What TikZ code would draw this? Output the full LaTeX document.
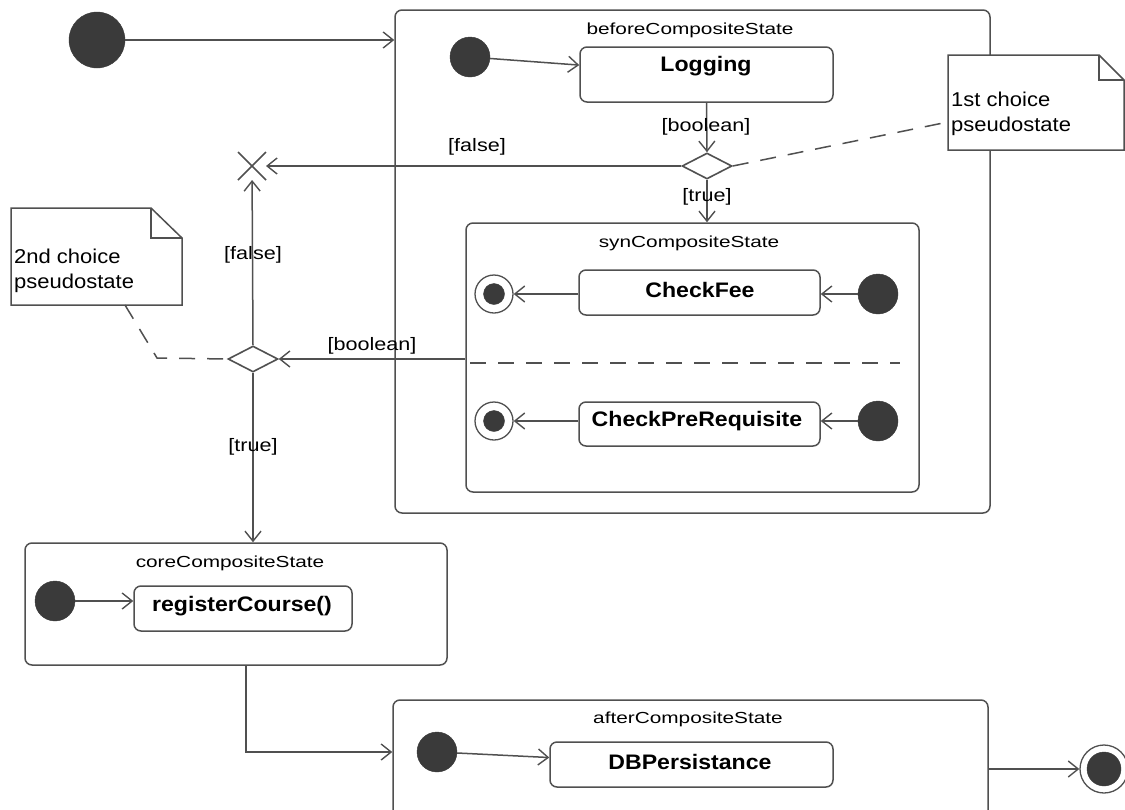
\documentclass[tikz,border=0pt]{standalone}
\usepackage{fontspec}
\setmainfont{Liberation Sans}
\usetikzlibrary{arrows.meta,shapes.geometric}
\definecolor{lc}{HTML}{505050}
\definecolor{dotc}{HTML}{3A3A3A}
\newcommand{\hsx}[2]{\scalebox{#1}[1]{#2}}
\begin{document}
\begin{tikzpicture}[x=1pt,y=-1pt,
  ln/.style={draw=lc, line width=1.5pt},
  tr/.style={ln, -{Straight Barb[length=10pt,width=16pt,line width=1.4pt]}},
  dsh/.style={ln, dash pattern=on 16pt off 12pt},
  sbox/.style={draw=lc, line width=1.5pt, rounded corners=7pt, inner sep=0pt, fill=white},
  init/.style={circle, fill=dotc, draw=dotc, inner sep=0pt},
  finout/.style={circle, draw=lc, line width=1.3pt, fill=white, inner sep=0pt},
  finin/.style={circle, fill=dotc, draw=dotc, inner sep=0pt},
  choice/.style={diamond, aspect=1.9, draw=lc, line width=1.6pt, fill=white, inner sep=0pt, minimum width=50pt, minimum height=26pt},
  ttl/.style={font=\fontsize{16}{18}\selectfont, text=black, inner sep=0pt},
  lbl/.style={font=\fontsize{18}{20}\selectfont, text=black, inner sep=0pt},
  stt/.style={font=\fontsize{21}{24}\selectfont\bfseries, text=black, inner sep=0pt},
  nte/.style={font=\fontsize{20}{25}\selectfont, text=black, inner sep=0pt, align=left, anchor=north west}
]
\useasboundingbox (0,0) rectangle (1125,809);
\fill[white] (0,0) rectangle (1125,809);

% top level initial
\node[init, minimum size=56pt] (i0) at (97,40) {};

% beforeCompositeState
\node[sbox, minimum width=595pt, minimum height=503pt] (before) at (692.5,261.5) {};
\node[ttl] (beforeT) at (690,30) {\hsx{1.3}{beforeCompositeState}};
\node[init, minimum size=40pt] (i1) at (470,57) {};
\node[sbox, minimum width=253pt, minimum height=55pt] (logging) at (706.5,74.5) {};
\node[stt] (loggingT) at (706,66) {\hsx{1.1}{Logging}};
\node[choice] (c1) at (707,166) {};

% synCompositeState
\node[sbox, minimum width=453pt, minimum height=269pt] (syn) at (692.5,357.5) {};
\node[ttl] (synT) at (689,243) {\hsx{1.3}{synCompositeState}};
\node[sbox, minimum width=241pt, minimum height=45pt] (fee) at (699.5,292.5) {};
\node[stt] (feeT) at (700,290) {\hsx{1.1}{CheckFee}};
\node[finout, minimum size=38pt] (f1) at (494,294) {};
\node[finin, minimum size=21pt] (f1i) at (494,294) {};
\node[init, minimum size=40pt] (i2) at (878,294) {};
\coordinate (sepL) at (470,363);
\coordinate (sepR) at (900,363);
\draw[dsh] (sepL) -- (sepR);
\node[sbox, minimum width=241pt, minimum height=44pt] (pre) at (699.5,424) {};
\node[stt] (preT) at (697,421) {\hsx{1.1}{CheckPreRequisite}};
\node[finout, minimum size=38pt] (f2) at (494,421) {};
\node[finin, minimum size=21pt] (f2i) at (494,421) {};
\node[init, minimum size=40pt] (i3) at (878,421) {};

% terminate X
\coordinate (term) at (252,166);
\coordinate (tA) at (238,152);
\coordinate (tB) at (266,180);
\coordinate (tC) at (266,152);
\coordinate (tD) at (238,180);
\draw[ln] (tA) -- (tB);
\draw[ln] (tC) -- (tD);

% second choice
\node[choice] (c2) at (253,359) {};

% coreCompositeState
\node[sbox, minimum width=422pt, minimum height=122pt] (core) at (236,604) {};
\node[ttl] (coreT) at (230,563) {\hsx{1.3}{coreCompositeState}};
\node[init, minimum size=40pt] (i4) at (55,601) {};
\node[sbox, minimum width=218pt, minimum height=45pt] (reg) at (243,608.5) {};
\node[stt] (regT) at (242,606) {\hsx{1.1}{registerCourse()}};

% afterCompositeState
\node[sbox, minimum width=595pt, minimum height=120pt] (after) at (690.5,760) {};
\node[ttl] (afterT) at (688,719) {\hsx{1.3}{afterCompositeState}};
\node[init, minimum size=40pt] (i5) at (437,752) {};
\node[sbox, minimum width=283pt, minimum height=45pt] (db) at (691.5,764.5) {};
\node[stt] (dbT) at (690,762) {\hsx{1.1}{DBPersistance}};
\node[finout, minimum size=48pt] (ff) at (1104,769) {};
\node[finin, minimum size=34pt] (ffi) at (1104,769) {};

% notes
\coordinate (n1a) at (948,55);
\coordinate (n1b) at (1099,55);
\coordinate (n1c) at (1124,80);
\coordinate (n1d) at (1124,150);
\coordinate (n1e) at (948,150);
\coordinate (n1f) at (1099,80);
\filldraw[ln, fill=white] (n1a) -- (n1b) -- (n1c) -- (n1d) -- (n1e) -- cycle;
\draw[ln] (n1b) -- (n1f) -- (n1c);
\node[nte] (n1T) at (951,92) {\hsx{1.1}{1st choice}\\\hsx{1.1}{pseudostate}};

\coordinate (n2a) at (11,208);
\coordinate (n2b) at (151,208);
\coordinate (n2c) at (182,238);
\coordinate (n2d) at (182,305);
\coordinate (n2e) at (11,305);
\coordinate (n2f) at (151,238);
\filldraw[ln, fill=white] (n2a) -- (n2b) -- (n2c) -- (n2d) -- (n2e) -- cycle;
\draw[ln] (n2b) -- (n2f) -- (n2c);
\node[nte] (n2T) at (14,249) {\hsx{1.1}{2nd choice}\\\hsx{1.1}{pseudostate}};

% note anchors
\coordinate (n1p) at (948,122);
\coordinate (n2p) at (125,305);
\coordinate (n2q) at (157,358);
\draw[dsh] (c1.east) -- (n1p);
\draw[dsh] (n2p) -- (n2q) -- (c2.west);

% transitions
\draw[tr] (i0) -- (i0 -| before.west);
\draw[tr] (i1) -- (logging);
\draw[tr] (logging.south) -- (c1.north);
\draw[tr, shorten >=14pt] (c1.west) -- (term);
\draw[tr] (c1.south) -- (c1.south |- syn.north);
\draw[tr] (i2) -- (fee.east |- i2);
\draw[tr] (fee.west |- f1) -- (f1);
\draw[tr] (i3) -- (pre.east |- i3);
\draw[tr] (pre.west |- f2) -- (f2);
\draw[tr] (c2 -| syn.west) -- (c2.east);
\draw[tr, shorten >=14pt] (c2.north) -- (term);
\draw[tr] (c2.south) -- (c2.south |- core.north);
\draw[tr] (i4) -- (reg.west |- i4);
\draw[tr] (core.south -| 246,0) -- (246,752) -- (i5 -| after.west);
\draw[tr] (i5) -- (db);
\draw[tr] (after.east |- ff) -- (ff);

% labels
\node[lbl] (lb1) at (706,127) {\hsx{1.2}{[boolean]}};
\node[lbl] (lb2) at (477,147) {\hsx{1.2}{[false]}};
\node[lbl] (lb3) at (707,197) {\hsx{1.2}{[true]}};
\node[lbl] (lb4) at (253,255) {\hsx{1.2}{[false]}};
\node[lbl] (lb5) at (372,346) {\hsx{1.2}{[boolean]}};
\node[lbl] (lb6) at (253,447) {\hsx{1.2}{[true]}};
\end{tikzpicture}
\end{document}
